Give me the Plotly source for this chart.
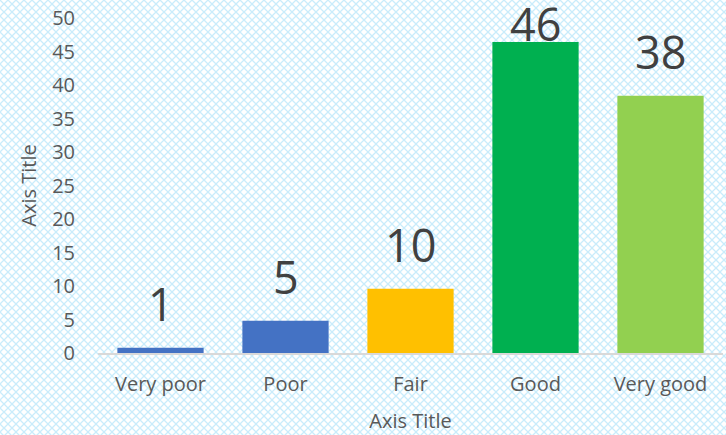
import base64
import plotly.graph_objects as go

categories = ['Very poor', 'Poor', 'Fair', 'Good', 'Very good']
values = [0.8, 4.8, 9.6, 46.4, 38.4]
labels = ['1', '5', '10', '46', '38']
colors = ['#4472C4', '#4472C4', '#FFC000', '#00B050', '#92D050']

W, H = 726, 435
ML, MR, MT, MB = 98, 3, 18, 82
YMAX = 50
LABEL_SIZE = 45

# light blue lattice background like the Excel pattern fill
svg = (
    f'<svg xmlns="http://www.w3.org/2000/svg" width="{W}" height="{H}" viewBox="0 0 {W} {H}">'
    '<defs><pattern id="p" width="8" height="8" patternUnits="userSpaceOnUse">'
    '<path d="M0 0L8 8M8 0L0 8" stroke="#c9ecfb" stroke-width="1.3"/>'
    '</pattern></defs>'
    f'<rect width="{W}" height="{H}" fill="white"/>'
    f'<rect width="{W}" height="{H}" fill="url(#p)"/></svg>'
)
bg = 'data:image/svg+xml;base64,' + base64.b64encode(svg.encode()).decode()

pw, ph = W - ML - MR, H - MT - MB

fig = go.Figure(go.Bar(
    x=categories,
    y=values,
    marker=dict(color=colors, line=dict(width=0)),
    hoverinfo='skip',
))

# data labels above bars, pushed down inside the chart when they would overflow the top
for cat, v, lab in zip(categories, values, labels):
    bar_top_px = MT + ph * (1 - v / YMAX)
    if bar_top_px - 12 - LABEL_SIZE * 1.3 < 0:
        fig.add_annotation(x=cat, y=1 + (MT + 9) / ph, yref='paper', yanchor='top',
                           text=lab, showarrow=False,
                           font=dict(size=LABEL_SIZE, color='#404040'))
    else:
        fig.add_annotation(x=cat, y=v, yanchor='bottom', yshift=12,
                           text=lab, showarrow=False,
                           font=dict(size=LABEL_SIZE, color='#404040'))

fig.update_layout(
    width=W, height=H,
    margin=dict(l=ML, r=MR, t=MT, b=MB),
    paper_bgcolor='rgba(0,0,0,0)',
    plot_bgcolor='rgba(0,0,0,0)',
    font=dict(family='Open Sans, Lato, sans-serif', color='#595959', size=20),
    bargap=0.31,
    showlegend=False,
    images=[dict(
        source=bg, xref='paper', yref='paper',
        x=-ML / pw, y=1 + MT / ph, sizex=W / pw, sizey=H / ph,
        xanchor='left', yanchor='top', sizing='stretch', layer='below',
    )],
)

fig.update_xaxes(
    automargin=False,
    showline=True, linecolor='#d9d9d9', linewidth=1.5,
    ticks='', ticklabelstandoff=12, tickfont=dict(size=20, color='#595959'),
    title=dict(text='Axis Title', font=dict(size=20, color='#595959'), standoff=18),
)
fig.update_yaxes(
    automargin=False,
    range=[0, YMAX], dtick=5, showgrid=False, zeroline=False,
    ticks='', ticklabelstandoff=22, ticklabeloverflow='allow',
    tickfont=dict(size=20, color='#595959'),
    title=dict(text='Axis Title', font=dict(size=20, color='#595959'), standoff=10),
)

# drop the default page margin so the chart sits flush at the window corner
fig.write_html('out.html', config={'displayModeBar': False},
               post_script="document.body.style.margin='0';")
